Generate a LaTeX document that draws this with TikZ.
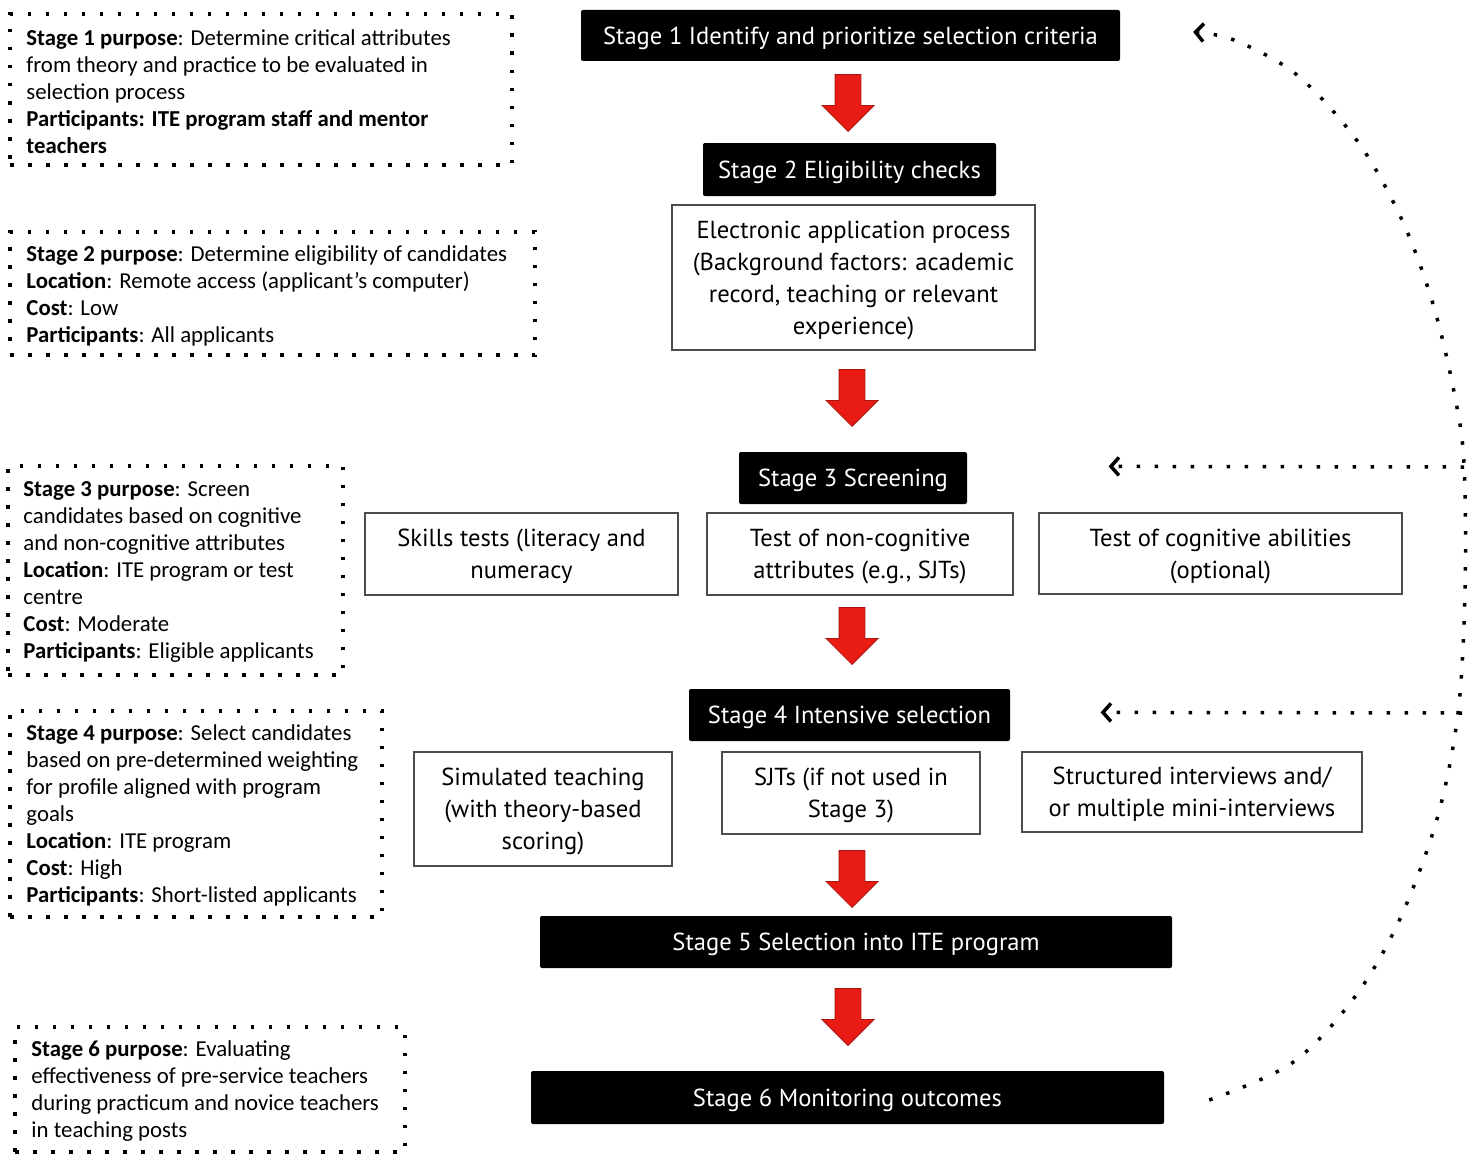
\documentclass[tikz,border=0pt]{standalone}
\usepackage{fontspec}
\setmainfont{Carlito}
\newfontfamily\gill{PT Sans}
\usetikzlibrary{arrows.meta,shapes.arrows,calc}
\definecolor{arrred}{RGB}{232,28,20}
\definecolor{arrdark}{RGB}{170,20,15}
\begin{document}
\begin{tikzpicture}[x=1pt,y=-1pt,
 stagebox/.style={fill=black, rounded corners=2pt, text=white, font=\gill\fontsize{24.6}{30}\selectfont, inner sep=0pt, text depth=-2pt},
 optbox/.style={draw=black!70, line width=1.2pt, font=\gill\fontsize{24.6}{32}\selectfont, align=center, inner sep=0pt, text depth=-2pt},
 dotbox/.style={draw, line width=3.5pt, dash pattern=on 3.5pt off 14.5pt, inner sep=0pt},
 infotext/.style={font=\fontsize{22.8}{27}\selectfont, align=left, anchor=west, inner sep=0pt},
 redarr/.style={single arrow, shape border rotate=270, anchor=tip, fill=arrred, draw=arrdark, line width=0.8pt, minimum height=57pt, minimum width=51pt, single arrow head extend=13pt, inner sep=12.5pt},
 fb/.style={line width=3.5pt, dash pattern=on 3.5pt off 14.5pt, -{Straight Barb[length=8pt,width=18pt,line width=3.5pt]}}
]
\useasboundingbox (0,0) rectangle (1480,1156);
\fill[white] (0,0) rectangle (1480,1156);

% stage boxes
\node[stagebox, minimum width=539pt, minimum height=51pt] (s1) at (850.5,35.5) {Stage 1 Identify and prioritize selection criteria};
\node[stagebox, minimum width=293pt, minimum height=53pt] (s2) at (849.5,169.5) {Stage 2 Eligibility checks};
\node[stagebox, minimum width=228pt, minimum height=52pt] (s3) at (853,478) {Stage 3 Screening};
\node[stagebox, minimum width=321pt, minimum height=52pt] (s4) at (849.5,715) {Stage 4 Intensive selection};
\node[stagebox, minimum width=632pt, minimum height=52pt] (s5) at (856,942) {Stage 5 Selection into ITE program};
\node[stagebox, minimum width=633pt, minimum height=53pt] (s6) at (847.5,1097.5) {Stage 6 Monitoring outcomes};

% option boxes
\node[optbox, minimum width=363pt, minimum height=145pt] (e) at (853.5,277.5) {Electronic application process\\(Background factors: academic\\record, teaching or relevant\\experience)};
\node[optbox, minimum width=313pt, minimum height=82pt] (t1) at (521.5,554) {Skills tests (literacy and\\numeracy};
\node[optbox, minimum width=306pt, minimum height=82pt] (t2) at (860,554) {Test of non-cognitive\\attributes (e.g., SJTs)};
\node[optbox, minimum width=363pt, minimum height=81pt] (t3) at (1220.5,553.5) {Test of cognitive abilities\\(optional)};
\node[optbox, minimum width=258pt, minimum height=114pt] (u1) at (543,809) {Simulated teaching\\(with theory-based\\scoring)};
\node[optbox, minimum width=258pt, minimum height=82pt] (u2) at (851,793) {SJTs (if not used in\\Stage 3)};
\node[optbox, minimum width=340pt, minimum height=80pt] (u3) at (1192,792) {Structured interviews and/\\or multiple mini-interviews};

% red arrows
\node[redarr] (a1) at (848,132) {};
\node[redarr] (a2) at (852,427) {};
\node[redarr] (a3) at (852,665) {};
\node[redarr] (a4) at (852,908) {};
\node[redarr] (a5) at (848,1046) {};

% dotted info boxes
\node[dotbox, minimum width=502pt, minimum height=151pt] (b1) at (261,89.5) {};
\node[infotext] (b1t) at ($(b1.west)+(18,2)$) {\textbf{Stage 1 purpose}: Determine critical attributes\\from theory and practice to be evaluated in\\selection process\\\textbf{Participants: ITE program staff and mentor}\\\textbf{teachers}};
\node[dotbox, minimum width=525pt, minimum height=123pt] (b2) at (272.5,293.5) {};
\node[infotext] (b2t) at ($(b2.west)+(18,2)$) {\textbf{Stage 2 purpose}: Determine eligibility of candidates\\\textbf{Location}: Remote access (applicant's computer)\\\textbf{Cost}: Low\\\textbf{Participants}: All applicants};
\node[dotbox, minimum width=335pt, minimum height=209pt] (b3) at (175.5,570.5) {};
\node[infotext] (b3t) at ($(b3.west)+(17,1.5)$) {\textbf{Stage 3 purpose}: Screen\\candidates based on cognitive\\and non-cognitive attributes\\\textbf{Location}: ITE program or test\\centre\\\textbf{Cost}: Moderate\\\textbf{Participants}: Eligible applicants};
\node[dotbox, minimum width=372pt, minimum height=206pt] (b4) at (196,814) {};
\node[infotext] (b4t) at ($(b4.west)+(18,1)$) {\textbf{Stage 4 purpose}: Select candidates\\based on pre-determined weighting\\for profile aligned with program\\goals\\\textbf{Location}: ITE program\\\textbf{Cost}: High\\\textbf{Participants}: Short-listed applicants};
\node[dotbox, minimum width=390pt, minimum height=125pt] (b5) at (210,1089.5) {};
\node[infotext] (b5t) at ($(b5.west)+(18,1.5)$) {\textbf{Stage 6 purpose}: Evaluating\\effectiveness of pre-service teachers\\during practicum and novice teachers\\in teaching posts};

% feedback loop
\coordinate (fbstart) at ($(s6.east)+(45,2.5)$);
\coordinate (fbend) at ($(s1.east)+(73,-3.5)$);
\coordinate (r3) at (1464,467);
\coordinate (r4) at (1462,713);
\coordinate (h3) at ($(t3.north east)+(-294,-46)$);
\coordinate (h4) at ($(u3.north east)+(-262,-39)$);
\draw[fb] plot[smooth, tension=0.55] coordinates {(fbstart) (1292,1063) (1354,998) (1399,921) (1437,819) (1458,713) (1465,590) (1464,463) (1454,392) (1433,304) (1402,220) (1358,142) (1297,75) (1234,40) (fbend)};
\draw[fb] (r3) -- (h3);
\draw[fb] (r4) -- (h4);
\end{tikzpicture}
\end{document}
